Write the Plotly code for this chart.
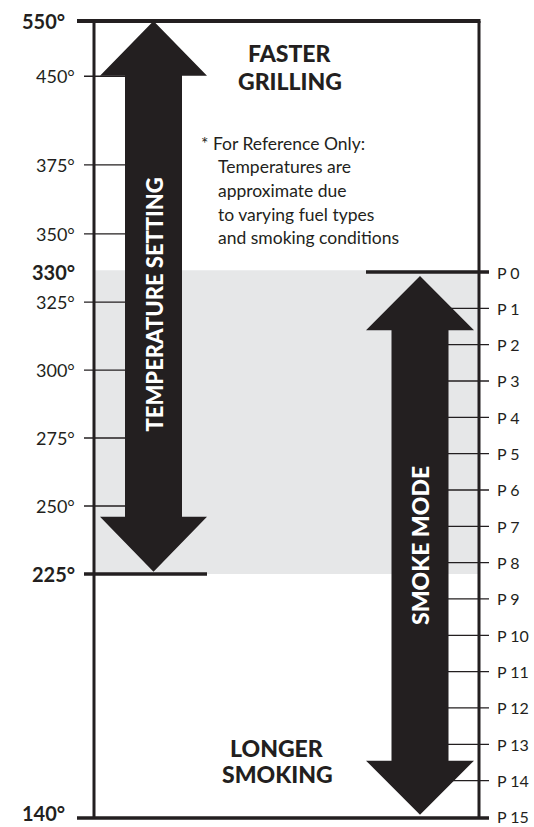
import plotly.graph_objects as go

# ---------------- data ----------------
temps = [550, 450, 375, 350, 330, 325, 300, 275, 250, 225, 140]
# position of each temperature mark, expressed on the smoke-level (P) scale
temp_levels = [-6.91, -5.39, -2.95, -1.05, 0.0, 0.83, 2.70, 4.57, 6.44, 8.31, 15.0]
major_temps = [550, 330, 225, 140]
smoke_labels = ["P 0", "P 1", "P 2", "P 3", "P 4", "P 5", "P 6", "P 7",
                "P 8", "P 9", "P 10", "P 11", "P 12", "P 13", "P 14", "P 15"]
smoke_levels = [0, 1, 2, 3, 4, 5, 6, 7, 8, 9, 10, 11, 12, 13, 14, 15]
band_temps = [330, 225]          # smoke-mode temperature band
temp_arrow_span = [550, 225]     # temperature setting arrow
note_lines = ["* For Reference Only:", "Temperatures are", "approximate due",
              "to varying fuel types", "and smoking conditions"]
top_text = ["FASTER", "GRILLING"]
bottom_text = ["LONGER", "SMOKING"]

# ---------------- styling / layout constants ----------------
W, H = 534, 827
PX_PER_LEVEL = 36.33
P0_PX = 272.0
INK = "#231f20"
GRAY = "#e6e7e8"
FONT = "Lato"
LEFT_X, RIGHT_X = 94, 479

def lvl(t):
    return temp_levels[temps.index(t)]

def pxl(p):
    return (p - P0_PX) / PX_PER_LEVEL

y_top = pxl(0)
y_bot = pxl(H)

fig = go.Figure()

def line(x0, x1, y0, y1, width, color=INK):
    fig.add_trace(go.Scatter(x=[x0, x1], y=[y0, y1], mode="lines",
                             line=dict(color=color, width=width),
                             hoverinfo="skip", showlegend=False))

def arrow(xc, y_tip_top, y_tip_bot, shaft_half, head_half, head_len):
    xs = [xc, xc + head_half, xc + shaft_half, xc + shaft_half, xc + head_half, xc,
          xc - head_half, xc - shaft_half, xc - shaft_half, xc - head_half, xc]
    ys = [y_tip_top, y_tip_top + head_len, y_tip_top + head_len,
          y_tip_bot - head_len, y_tip_bot - head_len, y_tip_bot,
          y_tip_bot - head_len, y_tip_bot - head_len, y_tip_top + head_len,
          y_tip_top + head_len, y_tip_top]
    fig.add_trace(go.Scatter(x=xs, y=ys, mode="lines", fill="toself",
                             fillcolor=INK, line=dict(color=INK, width=0),
                             hoverinfo="skip", showlegend=False))

# gray smoke band
fig.add_shape(type="rect", x0=LEFT_X, x1=RIGHT_X,
              y0=lvl(band_temps[0]) - 0.05, y1=lvl(band_temps[1]),
              fillcolor=GRAY, line=dict(width=0), layer="below")

# left minor ticks
for t, lv in zip(temps, temp_levels):
    if t not in major_temps:
        line(84, 153, lv, lv, 1.4)

# right ticks
for lv in smoke_levels[1:-1]:
    line(420, 489, lv, lv, 1.3)

# temperature arrow
arrow(153.5, lvl(temp_arrow_span[0]), lvl(temp_arrow_span[1]) - 0.06, 28.5, 53.5, 1.51)
# smoke arrow
arrow(420, smoke_levels[0] + 0.11, smoke_levels[-1] - 0.06, 28.5, 54, 1.49)

# frame lines
line(LEFT_X, LEFT_X, lvl(550), lvl(140) + 0.03, 3)
line(RIGHT_X, RIGHT_X, lvl(550), lvl(140) + 0.03, 3)
line(77, RIGHT_X + 1.5, lvl(550), lvl(550), 4)
line(77, 489, lvl(140) + 0.03, lvl(140) + 0.03, 3.5)
line(84, 207, lvl(225), lvl(225), 3.5)
line(366, 489, smoke_levels[0], smoke_levels[0], 3.5)

# temperature labels
for t, lv in zip(temps, temp_levels):
    if t in major_temps:
        xr = 66 if t in (550, 140) else 76
        ylab = lv - 0.1 if t == 140 else lv
        fig.add_annotation(x=xr, y=ylab, text=f"<b>{t}°</b>", showarrow=False,
                           xanchor="right", yanchor="middle", borderpad=0,
                           font=dict(family=FONT, size=20, color=INK, weight=900))
    else:
        fig.add_annotation(x=77, y=lv, text=f"{t}°", showarrow=False,
                           xanchor="right", yanchor="middle",
                           font=dict(family=FONT, size=18, color=INK))

# P labels
for lab, lv in zip(smoke_labels, smoke_levels):
    fig.add_annotation(x=495, y=lv, text=lab, showarrow=False,
                       xanchor="left", yanchor="middle",
                       font=dict(family=FONT, size=16, color=INK))

# heading texts
for i, s in enumerate(top_text):
    fig.add_annotation(x=290, y=pxl(53 + 28 * i), text=s,
                       showarrow=False, xanchor="center", yanchor="middle",
                       font=dict(family=FONT, size=23, color=INK, weight=900))
for i, s in enumerate(bottom_text):
    fig.add_annotation(x=277, y=pxl(748 + 26 * i), text=s,
                       showarrow=False, xanchor="center", yanchor="middle",
                       font=dict(family=FONT, size=23, color=INK, weight=900))

# note
for i, s in enumerate(note_lines):
    xl = 199 if i == 0 else 216
    fig.add_annotation(x=xl, y=pxl(143 + 23.7 * i), text=s,
                       showarrow=False, xanchor="left", yanchor="middle",
                       font=dict(family=FONT, size=17.5, color=INK))

# rotated arrow labels
fig.add_annotation(x=153.5, y=pxl(305), text="TEMPERATURE SETTING",
                   textangle=-90, showarrow=False, xanchor="center", yanchor="middle",
                   font=dict(family=FONT, size=22, color="white", weight=900))
fig.add_annotation(x=420, y=pxl(546), text="SMOKE MODE",
                   textangle=-90, showarrow=False, xanchor="center", yanchor="middle",
                   font=dict(family=FONT, size=23, color="white", weight=900))

fig.update_layout(
    width=W, height=H, margin=dict(l=0, r=0, t=0, b=0),
    paper_bgcolor="white", plot_bgcolor="white",
    xaxis=dict(range=[0, W], visible=False, fixedrange=True),
    yaxis=dict(range=[y_bot, y_top], visible=False, fixedrange=True),
    showlegend=False,
)

fig.write_html("out.html", config={"displayModeBar": False},
               post_script="document.body.style.margin='0px';"
                           "document.body.style.overflow='hidden';")
